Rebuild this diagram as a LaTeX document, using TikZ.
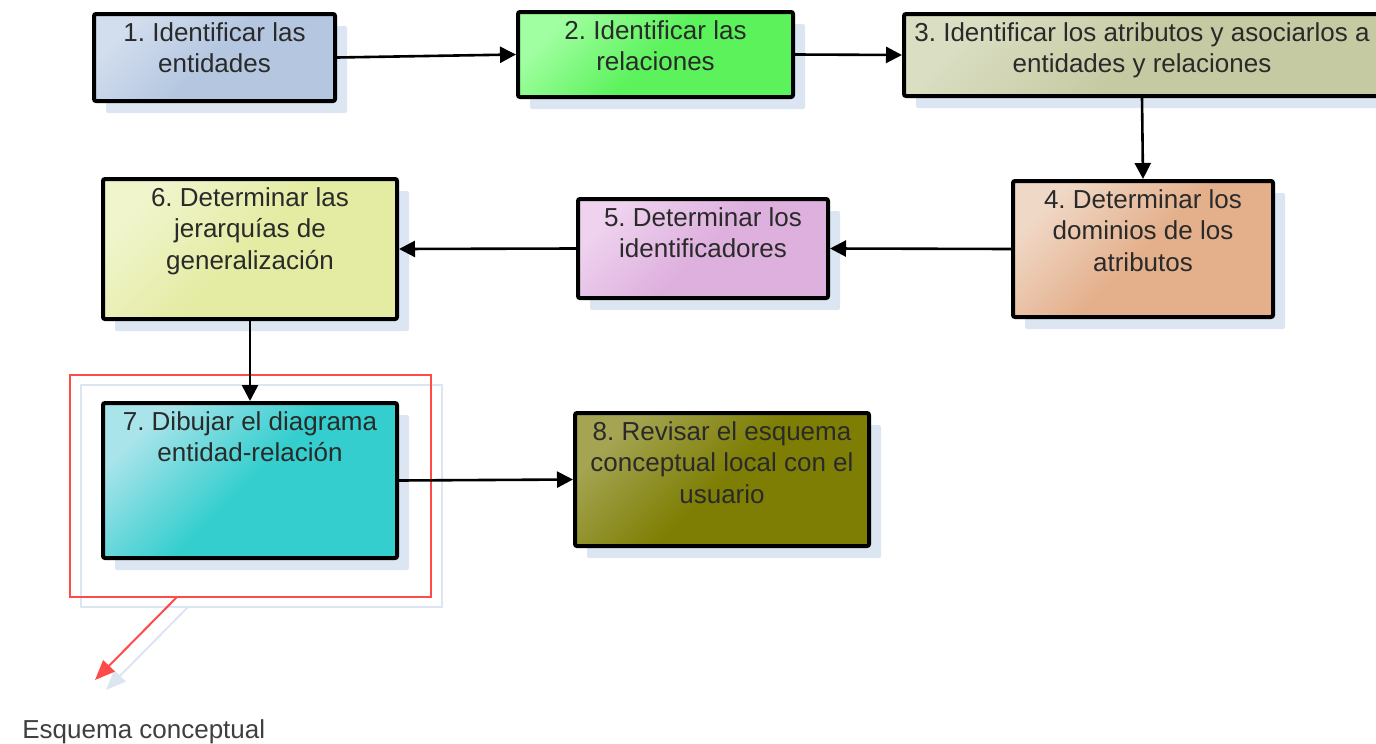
\documentclass[tikz,border=0pt]{standalone}
\usepackage{fontspec}
\setmainfont{Liberation Sans}
\usetikzlibrary{shadows,arrows.meta,positioning}
\frenchspacing

\definecolor{sombra}{HTML}{DCE6F2}
\definecolor{txtgris}{HTML}{2A2A2A}
\definecolor{rojo}{HTML}{FF4A4A}
\definecolor{unoA}{HTML}{D2DDEE}\definecolor{unoB}{HTML}{B4C6E0}
\definecolor{dosA}{HTML}{A0FFA0}\definecolor{dosB}{HTML}{5CF25C}
\definecolor{tresA}{HTML}{DADEC2}\definecolor{tresB}{HTML}{C6CAA2}
\definecolor{cuatroA}{HTML}{F0D8C6}\definecolor{cuatroB}{HTML}{E4B08C}
\definecolor{cincoA}{HTML}{EED2EE}\definecolor{cincoB}{HTML}{DEB0DE}
\definecolor{seisA}{HTML}{F0F5CC}\definecolor{seisB}{HTML}{E4EBA2}
\definecolor{sieteA}{HTML}{A8E4EA}\definecolor{sieteB}{HTML}{34CECE}
\definecolor{ochoA}{HTML}{A4A452}\definecolor{ochoB}{HTML}{7E7E04}

\tikzset{
  paso/.style 2 args={draw=black, line width=2pt, rounded corners=1pt, inner sep=0pt,
               top color=#1, bottom color=#2, middle color=#2, shading angle=45,
               drop shadow={shadow xshift=6pt, shadow yshift=-6pt, fill=sombra, opacity=1}},
  texto/.style={align=center, inner sep=0pt, text=txtgris, font=\fontsize{13}{15.8}\selectfont},
  flecha/.style={-{Triangle[length=8pt,width=8pt]}, line width=1.3pt},
}

\begin{document}
\begin{tikzpicture}[x=0.5pt, y=-0.5pt]
        \useasboundingbox (0,0) rectangle (1376,744);
        \clip (0,0) rectangle (1376,744);

        % the frame around step 7 (light copy behind it)
        \draw[sombra, line width=1pt] (81,385) rectangle (442,607);
        \draw[rojo, line width=1pt] (70,375) rectangle (431,597);

        % the eight steps
        \node[paso={unoA}{unoB}, minimum width=120.5pt, minimum height=43.5pt] (s1) at (214.5,57.5) {};
        \node[paso={dosA}{dosB}, minimum width=137.5pt, minimum height=42.5pt] (s2) at (655.5,54.5) {};
        \node[paso={tresA}{tresB}, minimum width=238pt, minimum height=41pt] (s3) at (1142,55) {};
        \node[paso={cuatroA}{cuatroB}, minimum width=130pt, minimum height=68pt] (s4) at (1143,249) {};
        \node[paso={cincoA}{cincoB}, minimum width=125pt, minimum height=49.5pt] (s5) at (703,248.5) {};
        \node[paso={seisA}{seisB}, minimum width=147pt, minimum height=70pt] (s6) at (250,249) {};
        \node[paso={sieteA}{sieteB}, minimum width=147pt, minimum height=77.5pt] (s7) at (250,480.5) {};
        \node[paso={ochoA}{ochoB}, minimum width=147pt, minimum height=66.5pt] (s8) at (722,479.5) {};

        % their texts, from the top of each box
        \node[texto, below=5pt of s1.north] (t1) {1. Identificar las\\entidades};
        \node[texto, below=5pt of s2.north] (t2) {2. Identificar las\\relaciones};
        \node[texto, below=5pt of s3.north] (t3) {3. Identificar los atributos y asociarlos a\\entidades y relaciones};
        \node[texto, below=5pt of s4.north] (t4) {4. Determinar los\\dominios de los\\atributos};
        \node[texto, below=5pt of s5.north] (t5) {5. Determinar los\\identificadores};
        \node[texto, below=5pt of s6.north] (t6) {6. Determinar las\\jerarquías de\\generalización};
        \node[texto, below=5pt of s7.north] (t7) {7. Dibujar el diagrama\\entidad-relación};
        \node[texto, below=5pt of s8.north] (t8) {8. Revisar el esquema\\conceptual local con el\\usuario};

        % the flow
        \draw[flecha] (s1.east) -- (s2.west);
        \draw[flecha] (s2.east) -- (s3.west);
        \draw[flecha] (s3.south) -- (s4.north);
        \draw[flecha] (s4.west) -- (s5.east);
        \draw[flecha] (s5.west) -- (s6.east);
        \draw[flecha] (s6.south) -- (s7.north);
        \draw[flecha] (s7.east) -- (s8.west);

        % what comes out of it
        \coordinate (sal) at (177,597);
        \coordinate (fin) at (95,680);
        \coordinate (salS) at (188,607);
        \coordinate (finS) at (106,690);
        \draw[sombra, line width=1pt, -{Triangle[length=10pt,width=8pt]}] (salS) -- (finS);
        \draw[rojo, line width=1pt, -{Triangle[length=10pt,width=8pt]}] (sal) -- (fin);
        \node[texto, anchor=base west, text=txtgris!90] (esq) at (22,738) {Esquema conceptual};
\end{tikzpicture}
\end{document}
